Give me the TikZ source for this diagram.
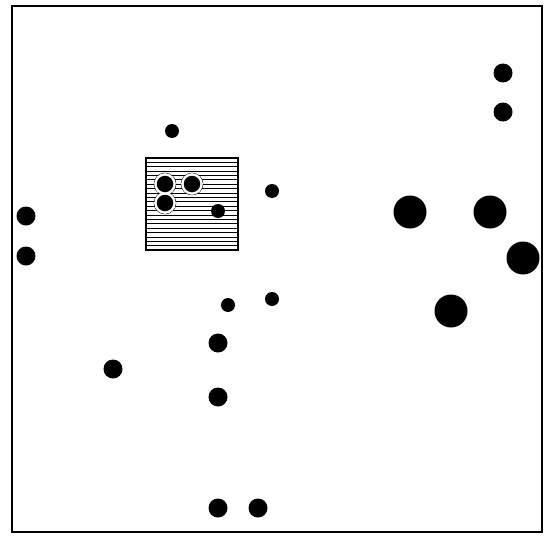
\documentclass[tikz,border=0pt]{standalone}
\usepackage{tikz}
\usetikzlibrary{positioning}

\tikzset{
  smalldot/.style={circle,fill=black,inner sep=0pt,minimum size=14pt},
  middot/.style={circle,fill=black,inner sep=0pt,minimum size=19pt},
  bigdot/.style={circle,fill=black,inner sep=0pt,minimum size=33pt},
  fielddot/.style={circle,fill=black,inner sep=0pt,minimum size=16.5pt},
}

\begin{document}
\begin{tikzpicture}[x=1pt,y=-1pt]
  \useasboundingbox (0,0) rectangle (551,535);
  \draw[line width=2.5pt] (12,6) rectangle (542,532);

  % hatched field
  \coordinate (fieldnw) at (146,158);
  \coordinate (fieldse) at (238,250);
  \foreach \k in {0,...,20}
    \draw[line width=0.6pt] (146,162+4.4*\k) -- (238,162+4.4*\k);
  \draw[line width=1.2pt] (fieldnw) rectangle (fieldse);
  % white rims round the dots in the field
  \draw[line width=0.5pt] (165,184) circle (11pt) (165,203) circle (11pt) (192,184) circle (11pt);
  \fill[white] (165,184) circle (10.7pt) (165,203) circle (10.7pt) (192,184) circle (10.7pt);
  \node[fielddot] (f1) at (165,184) {};
  \node[fielddot] (f2) at (165,203) {};
  \node[fielddot] (f3) at (192,184) {};
  \node[smalldot] (f4) at (218,211) {};

  % small dots
  \node[smalldot] (s1) at (172,131) {};
  \node[smalldot] (s2) at (272,191) {};
  \node[smalldot] (s3) at (228,305) {};
  \node[smalldot] (s4) at (272,299) {};

  % medium dots
  \node[middot] (m1) at (503,73) {};
  \node[middot] (m2) at (503,112) {};
  \node[middot] (m3) at (26,216) {};
  \node[middot] (m4) at (26,256) {};
  \node[middot] (m5) at (218,343) {};
  \node[middot] (m6) at (113,369) {};
  \node[middot] (m7) at (218,397) {};
  \node[middot] (m8) at (218,508) {};
  \node[middot] (m9) at (258,508) {};

  % large dots
  \node[bigdot] (b1) at (410,212) {};
  \node[bigdot] (b2) at (490,212) {};
  \node[bigdot] (b3) at (523,258) {};
  \node[bigdot] (b4) at (451,311) {};
\end{tikzpicture}
\end{document}
